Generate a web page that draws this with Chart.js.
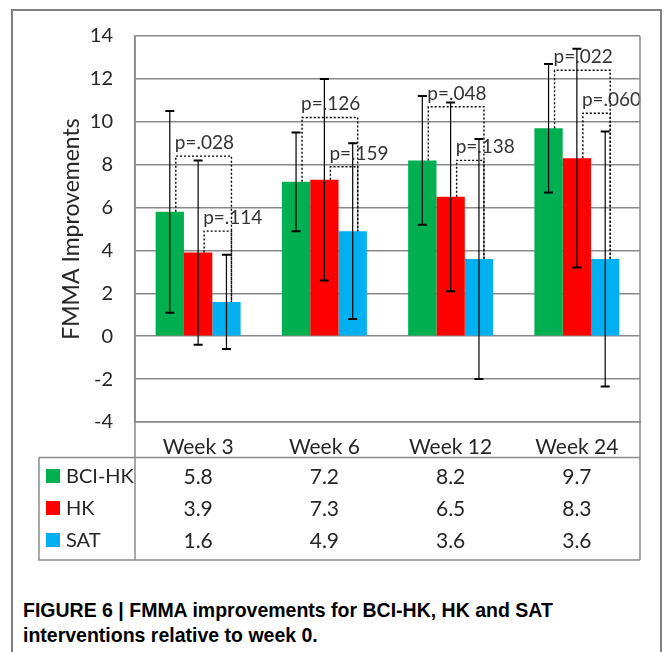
<!DOCTYPE html>
<html>
<head>
<meta charset="utf-8">
<script src="https://cdn.jsdelivr.net/npm/chart.js@4.4.0/dist/chart.umd.min.js"></script>
<style>
  html, body { margin: 0; padding: 0; background: #fff; }
  #wrap { position: relative; width: 671px; height: 652px; overflow: hidden; }
  #frame { position: absolute; left: 11px; top: 9px; width: 651px; height: 700px; border: 2px solid #7f7f7f; box-sizing: border-box; }
  #chart { position: absolute; left: 0; top: 0; }
  #caption { position: absolute; left: 23px; top: 598px; font: bold 19.5px "Liberation Sans", Arial, sans-serif; line-height: 25px; color: #000; }
</style>
</head>
<body>
<div id="wrap">
  <div id="frame"></div>
  <canvas id="chart" width="671" height="580"></canvas>
  <div id="caption">FIGURE 6 | FMMA improvements for BCI-HK, HK and SAT<br>interventions relative to week 0.</div>
</div>
<script>
'use strict';

// Data
let weeks = ['Week 3', 'Week 6', 'Week 12', 'Week 24'];
let seriesNames = ['BCI-HK', 'HK', 'SAT'];
let bciHk = [5.8, 7.2, 8.2, 9.7];
let hk = [3.9, 7.3, 6.5, 8.3];
let sat = [1.6, 4.9, 3.6, 3.6];
let bciHkErr = [4.7, 2.3, 3.0, 3.0];
let hkErr = [4.3, 4.7, 4.4, 5.1];
let satErr = [2.2, 4.1, 5.6, 5.95];
let yTicks = [-4, -2, 0, 2, 4, 6, 8, 10, 12, 14];

// p-value brackets (BCI-HK vs SAT, HK vs SAT)
let bciSatLevel = [8.4, 10.2, 10.7, 12.4];
let bciSatP = ['p=.028', 'p=.126', 'p=.048', 'p=.022'];
let hkSatLevel = [4.9, 7.9, 8.2, 10.4];
let hkSatP = ['p=.114', 'p=.159', 'p=.138', 'p=.060'];

let colors = ['#00b050', '#ff0000', '#00b0f0'];
let allErrors = [bciHkErr, hkErr, satErr];
let allValues = [bciHk, hk, sat];

const ctx = document.getElementById('chart').getContext('2d');

let errorBars = {
  id: 'errorBars',
  afterDatasetsDraw(chart) {
    let c = chart.ctx;
    let y = chart.scales.y;
    c.save();
    c.strokeStyle = '#000';
    for (let i = 0; i < allValues.length; i++) {
      let meta = chart.getDatasetMeta(i);
      meta.data.forEach((bar, j) => {
        let top = y.getPixelForValue(allValues[i][j] + allErrors[i][j]);
        let bot = y.getPixelForValue(allValues[i][j] - allErrors[i][j]);
        c.lineWidth = 1.2;
        c.beginPath();
        c.moveTo(bar.x, top);
        c.lineTo(bar.x, bot);
        c.stroke();
        c.lineWidth = 2;
        c.beginPath();
        c.moveTo(bar.x - 4.5, top);
        c.lineTo(bar.x + 4.5, top);
        c.moveTo(bar.x - 4.5, bot);
        c.lineTo(bar.x + 4.5, bot);
        c.stroke();
      });
    }
    c.restore();
  }
};

let brackets = {
  id: 'brackets',
  afterDatasetsDraw(chart) {
    let c = chart.ctx;
    let y = chart.scales.y;
    let greenBars = chart.getDatasetMeta(0).data;
    let redBars = chart.getDatasetMeta(1).data;
    let blueBars = chart.getDatasetMeta(2).data;
    c.save();
    c.strokeStyle = '#000';
    c.lineWidth = 1.4;
    c.setLineDash([2, 2]);
    c.font = '19px Lato';
    c.fillStyle = '#333';
    c.textAlign = 'left';
    c.textBaseline = 'alphabetic';
    let drawOne = (fromBar, fromVal, toBar, toVal, level, label) => {
      let x1 = fromBar.x + 6;
      let x2 = toBar.x + 5;
      let yl = y.getPixelForValue(level);
      c.beginPath();
      c.moveTo(x1, y.getPixelForValue(fromVal));
      c.lineTo(x1, yl);
      c.lineTo(x2, yl);
      c.lineTo(x2, y.getPixelForValue(toVal));
      c.stroke();
      c.fillText(label, x1 - 1, yl - 7);
    };
    for (let j = 0; j < weeks.length; j++) {
      drawOne(greenBars[j], bciHk[j], blueBars[j], sat[j], bciSatLevel[j], bciSatP[j]);
      drawOne(redBars[j], hk[j], blueBars[j], sat[j], hkSatLevel[j], hkSatP[j]);
    }
    c.restore();
  }
};

let dataTable = {
  id: 'dataTable',
  afterDraw(chart) {
    let c = chart.ctx;
    let area = chart.chartArea;
    let x = chart.scales.x;
    let tableLeft = 39;
    let tableTop = 457.5;
    let tableBottom = 560;
    let rowY = [476, 508, 540];
    c.save();
    c.strokeStyle = '#8a8a8a';
    c.lineWidth = 1.5;
    c.beginPath();
    c.moveTo(tableLeft, tableTop);
    c.lineTo(area.right, tableTop);
    c.moveTo(tableLeft, tableTop);
    c.lineTo(tableLeft, tableBottom);
    c.lineTo(area.right, tableBottom);
    c.moveTo(area.left, area.top);
    c.lineTo(area.left, tableBottom);
    c.moveTo(area.right, area.top);
    c.lineTo(area.right, tableBottom);
    c.stroke();
    c.textBaseline = 'middle';
    for (let i = 0; i < seriesNames.length; i++) {
      c.fillStyle = colors[i];
      c.fillRect(46, rowY[i] - 7, 14, 14);
      c.fillStyle = '#262626';
      c.textAlign = 'left';
      c.font = '20px Lato';
      c.fillText(seriesNames[i], 66, rowY[i] + 1);
      c.textAlign = 'center';
      c.font = '21px Lato';
      for (let j = 0; j < weeks.length; j++) {
        c.fillText(allValues[i][j].toFixed(1), x.getPixelForValue(j), rowY[i] + 1);
      }
    }
    c.restore();
  }
};

let chartObject = {
  type: 'bar',
  data: {
    labels: weeks,
    datasets: seriesNames.map((name, i) => ({
      label: name,
      data: allValues[i],
      backgroundColor: colors[i],
      borderWidth: 0,
      categoryPercentage: 0.673,
      barPercentage: 1
    }))
  },
  options: {
    responsive: false,
    animation: false,
    devicePixelRatio: 1,
    layout: {
      padding: { top: 36, right: 31, left: 0, bottom: 0 }
    },
    plugins: {
      legend: { display: false },
      tooltip: { enabled: false }
    },
    scales: {
      x: {
        grid: { display: false },
        border: { display: true, color: '#8a8a8a', width: 1.5 },
        ticks: {
          color: '#262626',
          font: { family: 'Lato', size: 21 },
          padding: 5,
          maxRotation: 0
        },
        afterFit(scale) {
          scale.height = 158;
        }
      },
      y: {
        min: -4,
        max: 14,
        afterBuildTicks(scale) {
          scale.ticks = yTicks.map(v => ({ value: v }));
        },
        grid: { color: '#8a8a8a', lineWidth: 1.5, drawTicks: false },
        border: { display: true, color: '#8a8a8a', width: 1.5 },
        ticks: {
          color: '#262626',
          font: { family: 'Lato', size: 20 },
          padding: 22
        },
        title: {
          display: true,
          text: 'FMMA Improvements',
          color: '#262626',
          font: { family: 'Lato', size: 23 },
          padding: { top: 58, bottom: 0 }
        },
        afterFit(scale) {
          scale.width = 135;
        }
      }
    }
  },
  plugins: [errorBars, brackets, dataTable]
};

// eslint-disable-next-line no-unused-vars
const myChart = new Chart(ctx, chartObject);
</script>
</body>
</html>
